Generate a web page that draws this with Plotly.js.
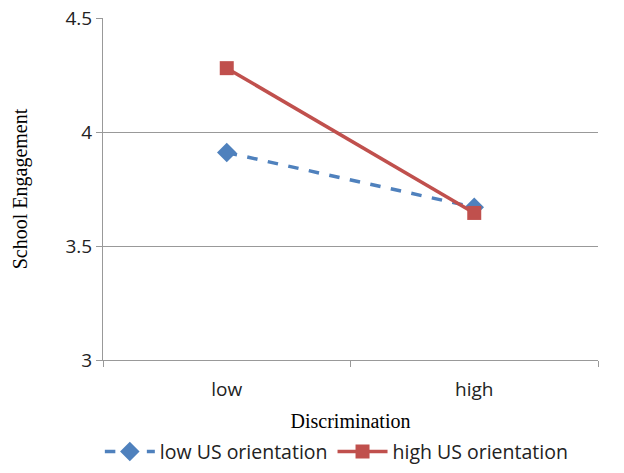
<!DOCTYPE html>
<html><head><meta charset="utf-8">
<script src="https://cdn.plot.ly/plotly-3.0.1.min.js"></script>
<style>html,body{margin:0;padding:0;background:#fff}#c{width:624px;height:473px}</style>
</head><body><div id="c"></div>
<script>
const categories = ["low", "high"];
const lowUS = [3.91, 3.67];
const highUS = [4.28, 3.645];
const seriesNames = ["low US orientation", "high US orientation"];
const yTicks = [3, 3.5, 4, 4.5];
const yTickText = ["3", "3.5", "4", "4.5"];

const traces = [
  {x: categories, y: lowUS, name: seriesNames[0], type: "scatter", mode: "lines+markers",
   line: {color: "#4F81BD", width: 3.5, dash: "dash"},
   marker: {symbol: "diamond", size: 15, color: "#4F81BD"}},
  {x: categories, y: highUS, name: seriesNames[1], type: "scatter", mode: "lines+markers",
   line: {color: "#C0504D", width: 3.5},
   marker: {symbol: "square", size: 14, color: "#C0504D"}}
];
const layout = {
  width: 624, height: 473,
  margin: {l: 103, r: 26, t: 18, b: 113, autoexpand: false},
  paper_bgcolor: "#fff", plot_bgcolor: "#fff",
  showlegend: true,
  legend: {orientation: "h", xref: "container", x: 0.16, xanchor: "left", yref: "container", y: 0.045, yanchor: "middle",
    font: {family: "Open Sans, sans-serif", size: 19.5, color: "#222"}, itemwidth: 50, tracegroupgap: 0},
  xaxis: {type: "category", range: [-0.5, 1.5], tickson: "boundaries", ticks: "outside", ticklen: 6,
    tickcolor: "#999", showline: true, linecolor: "#999", linewidth: 1, showgrid: false, zeroline: false,
    ticklabelstandoff: 12, automargin: false,
    tickfont: {family: "Open Sans, sans-serif", size: 19, color: "#222"},
    title: {text: "Discrimination", font: {family: "Liberation Serif, serif", size: 20, color: "#000"}, standoff: 14}},
  yaxis: {range: [3, 4.5], tickvals: yTicks, ticktext: yTickText, ticks: "outside", ticklen: 6,
    tickcolor: "#999", showline: true, linecolor: "#999", linewidth: 1, showgrid: true, gridcolor: "#999",
    zeroline: false, automargin: false, tickfont: {family: "Open Sans, sans-serif", size: 19, color: "#222"},
    title: {text: "School Engagement", font: {family: "Liberation Serif, serif", size: 20, color: "#000"}, standoff: 32}}
};
Plotly.newPlot("c", traces, layout, {displayModeBar: false, staticPlot: true});
</script></body></html>
